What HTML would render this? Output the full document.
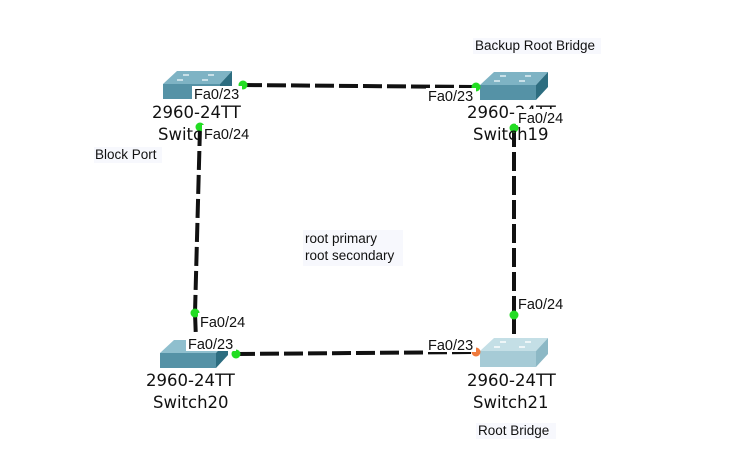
<!DOCTYPE html>
<html><head><meta charset="utf-8"><style>
html,body{margin:0;padding:0;background:#fff;}
svg{display:block;font-family:"Liberation Sans",sans-serif;}
</style></head><body>
<svg width="730" height="473" viewBox="0 0 730 473" xmlns="http://www.w3.org/2000/svg">
<g stroke="#111" stroke-width="4" stroke-dasharray="19,5" fill="none">
<line x1="243" y1="85" x2="476" y2="87"/>
<line x1="200" y1="127" x2="195" y2="313"/>
<line x1="195" y1="313" x2="196" y2="340"/>
<line x1="514" y1="128" x2="514" y2="315"/>
<line x1="514" y1="315" x2="514" y2="338"/>
<line x1="236" y1="354" x2="476" y2="352"/>
</g>
<g>
<polygon points="177,71 232,71 220,84 163,84" fill="#7eb3c4"/>
<polygon points="163,84 220,84 220,99 163,99" fill="#5592a6"/>
<polygon points="220,84 232,71 232,86 220,99" fill="#2d6d80"/>
<g fill="#c8e0e8"><rect x="183" y="74" width="6" height="2"/><rect x="208" y="74" width="6" height="2"/><rect x="177" y="79" width="6" height="2"/><rect x="202" y="79" width="6" height="2"/></g>
</g>
<g>
<polygon points="494,72 548,72 536,85 480,85" fill="#7eb3c4"/>
<polygon points="480,85 536,85 536,100 480,100" fill="#5592a6"/>
<polygon points="536,85 548,72 548,87 536,100" fill="#2d6d80"/>
<g fill="#c8e0e8"><rect x="500" y="75" width="6" height="2"/><rect x="525" y="75" width="6" height="2"/><rect x="494" y="80" width="6" height="2"/><rect x="519" y="80" width="6" height="2"/></g>
</g>
<g>
<polygon points="174,340 228,340 216,353 160,353" fill="#8fbfce"/>
<polygon points="160,353 216,353 216,368 160,368" fill="#5592a6"/>
<polygon points="216,353 228,340 228,355 216,368" fill="#2d6d80"/>
</g>
<g>
<polygon points="494,338 548,338 536,351 480,351" fill="#c4dfe6"/>
<polygon points="480,351 536,351 536,367 480,367" fill="#a6cbd6"/>
<polygon points="536,351 548,338 548,354 536,367" fill="#8cb8c5"/>
<g fill="#eef6f8"><rect x="500" y="341" width="6" height="2"/><rect x="525" y="341" width="6" height="2"/><rect x="494" y="346" width="6" height="2"/><rect x="519" y="346" width="6" height="2"/></g>
</g>
<g fill="#22dd22">
<circle cx="243" cy="85" r="4.5"/>
<circle cx="476" cy="87" r="4.5"/>
<circle cx="200" cy="127" r="4.5"/>
<circle cx="514" cy="128" r="4.5"/>
<circle cx="195" cy="313" r="4.5"/>
<circle cx="514" cy="315" r="4.5"/>
<circle cx="236" cy="354" r="4.5"/>
</g>
<circle cx="476" cy="352" r="4.5" fill="#f07a3c"/>
<g font-size="16.5" fill="#111" font-family="DejaVu Sans, sans-serif">
<text x="152" y="118">2960-24TT</text>
<text x="158" y="140">Switch18</text>
<text x="467" y="118">2960-24TT</text>
<text x="473" y="140">Switch19</text>
<text x="146" y="386">2960-24TT</text>
<text x="153" y="408">Switch20</text>
<text x="467" y="386">2960-24TT</text>
<text x="473" y="408">Switch21</text>
</g>
<g fill="#fff">
<rect x="192" y="86" width="50" height="15"/>
<rect x="202" y="125" width="52" height="16"/>
<rect x="426" y="88" width="50" height="15"/>
<rect x="516" y="109" width="52" height="16"/>
<rect x="198" y="313" width="52" height="16"/>
<rect x="186" y="335" width="50" height="16"/>
<rect x="426" y="336" width="50" height="16"/>
<rect x="516" y="295" width="52" height="16"/>
</g>
<g font-size="14.5" fill="#111">
<text x="194" y="99">Fa0/23</text>
<text x="204" y="139">Fa0/24</text>
<text x="428" y="101">Fa0/23</text>
<text x="518" y="123">Fa0/24</text>
<text x="200" y="327">Fa0/24</text>
<text x="188" y="349">Fa0/23</text>
<text x="428" y="350">Fa0/23</text>
<text x="518" y="309">Fa0/24</text>
</g>
<rect x="303" y="230" width="100" height="36" fill="#f7f8fd"/>
<rect x="473" y="38" width="128" height="16" fill="#f7f8fd"/>
<rect x="476" y="423" width="80" height="16" fill="#f7f8fd"/>
<rect x="94" y="147" width="68" height="16" fill="#f7f8fd"/>
<g font-size="13.5" fill="#111">
<text x="305" y="243">root primary</text>
<text x="305" y="260">root secondary</text>
<text x="475" y="50">Backup Root Bridge</text>
<text x="478" y="435">Root Bridge</text>
<text x="95" y="159">Block Port</text>
</g>
</svg>
</body></html>
